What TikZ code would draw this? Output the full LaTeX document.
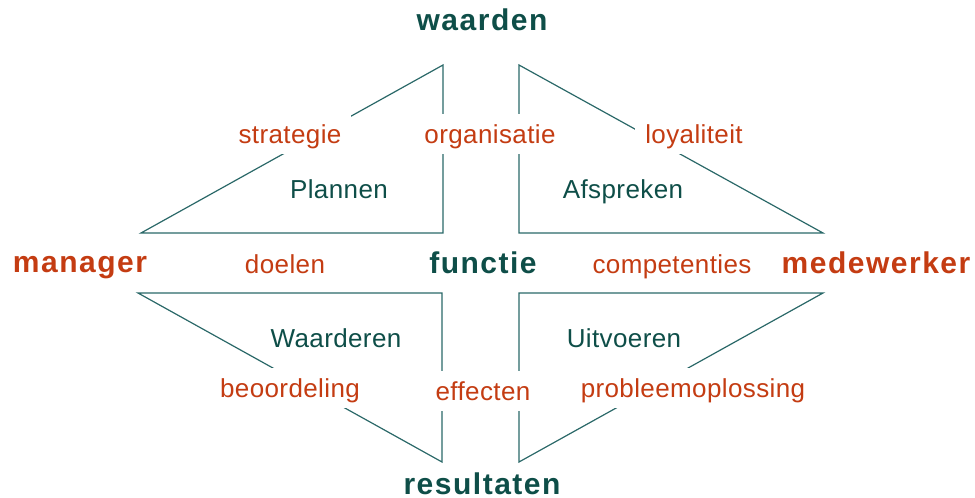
\documentclass[tikz,border=0pt]{standalone}
\usepackage{fontspec}
\setmainfont{Liberation Sans}[LetterSpace=1.5]
\newfontfamily\kopfont{Liberation Sans}[LetterSpace=5]
\definecolor{groen}{RGB}{14,78,72}
\definecolor{rood}{RGB}{196,60,18}
\definecolor{lijn}{RGB}{42,104,104}

\begin{document}
\begin{tikzpicture}[x=0.5pt,y=-0.5pt,font=\fontsize{13}{15}\selectfont,
	driehoek/.style={draw=lijn,line width=0.6pt,line join=miter},
	hoek/.style={font=\kopfont\fontsize{15}{18}\selectfont\bfseries,anchor=base},
	kenmerk/.style={text=rood,fill=white,anchor=base,inner xsep=5pt,inner ysep=4pt,
		text height=10.5pt,text depth=1.5pt},
	taak/.style={text=groen,anchor=base}]
	\useasboundingbox (0,0) rectangle (975,498);
	% four triangles round the centre
	\draw[driehoek] (443,65) -- (443,233) -- (141,233) -- cycle;
	\draw[driehoek] (519,65) -- (519,233) -- (823,233) -- cycle;
	\draw[driehoek] (138,293) -- (442,293) -- (442,462) -- cycle;
	\draw[driehoek] (519,293) -- (823,293) -- (519,462) -- cycle;
	% corners
	\node[hoek,text=groen] (waarden) at (482,31) {waarden};
	\node[hoek,text=groen] (functie) at (483,273) {functie};
	\node[hoek,text=groen] (resultaten) at (482,494) {resultaten};
	\node[hoek,text=rood] (manager) at (80,272) {manager};
	\node[hoek,text=rood] (medewerker) at (876,273) {medewerker};
	% tasks
	\foreach \naam/\tekst/\x/\y in {plan/Plannen/339/198,afspr/Afspreken/623/198,
		waard/Waarderen/336/347,uitv/Uitvoeren/624/347}
		\node[taak] (\naam) at (\x,\y) {\tekst};
	% aspects on the lines
	\foreach \naam/\tekst/\x/\y in {strat/strategie/290/143,org/organisatie/490/143,
		loy/loyaliteit/694/143,doel/doelen/285/273,comp/competenties/672/273,
		beo/beoordeling/290/397,eff/effecten/483/400,prob/probleemoplossing/693/397}
		\node[kenmerk] (\naam) at (\x,\y) {\tekst};
\end{tikzpicture}
\end{document}
